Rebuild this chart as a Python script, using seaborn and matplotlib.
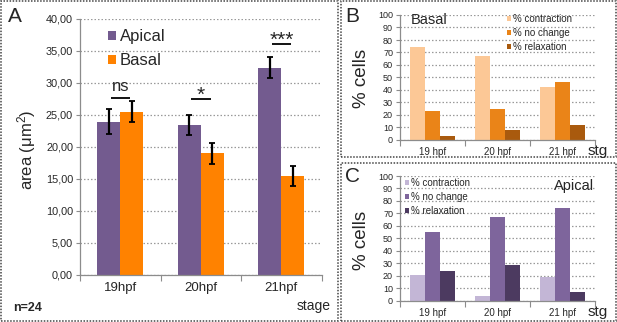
import numpy as np
import pandas as pd
import matplotlib
matplotlib.use("Agg")
import matplotlib.pyplot as plt
from matplotlib.patches import Rectangle
import seaborn as sns

# ---------------- data ----------------
stages_A = ["19hpf", "20hpf", "21hpf"]
apical_area = [23.9, 23.4, 32.4]
basal_area = [25.5, 19.0, 15.5]
apical_err = [1.95, 1.55, 1.65]
basal_err = [1.65, 1.65, 1.55]
sig_labels = ["ns", "*", "***"]
sig_heights = [27.6, 27.45, 36.1]

stages_BC = ["19 hpf", "20 hpf", "21 hpf"]
categories = ["% contraction", "% no change", "% relaxation"]
basal_contraction = [74, 67, 42]
basal_nochange = [23, 25, 46]
basal_relaxation = [3, 8, 12]
apical_contraction = [21, 4, 19]
apical_nochange = [55, 67, 74]
apical_relaxation = [24, 29, 7]

yticks_A = np.arange(0, 41, 5)
yticklabels_A = [f"{v:.2f}".replace(".", ",") for v in yticks_A]
yticks_BC = np.arange(0, 101, 10)

# ---------------- style ----------------
sns.set_theme(style="white")
plt.rcParams["font.family"] = ["Liberation Sans", "DejaVu Sans"]
plt.rcParams["mathtext.fontset"] = "custom"
plt.rcParams["mathtext.rm"] = "Liberation Sans"
plt.rcParams["mathtext.it"] = "Liberation Sans:italic"
plt.rcParams["mathtext.bf"] = "Liberation Sans:bold"

W, H = 617, 322
fig = plt.figure(figsize=(W / 100, H / 100), dpi=100)


def fx(px):
    return px / W


def fy(py):
    return 1 - py / H


def axes_px(l, t, r, b):
    return fig.add_axes([fx(l), fy(b), fx(r) - fx(l), fy(t) - fy(b)])


GRID = dict(color="#9a9a9a", linestyle=(0, (1.2, 1.6)), linewidth=0.9)
SPINE = "#8c8c8c"
TXT = "#262626"


def style_axes(ax, ymax, yticks, ylabels, ytick_fs, xtick_fs):
    ax.set_xlim(-0.5, 2.5)
    ax.set_ylim(0, ymax)
    ax.set_yticks(yticks)
    ax.set_yticklabels(ylabels, fontsize=ytick_fs, color=TXT)
    ax.yaxis.grid(True, **GRID)
    ax.xaxis.grid(False)
    ax.set_axisbelow(True)
    for s in ["top", "right"]:
        ax.spines[s].set_visible(False)
    for s in ["left", "bottom"]:
        ax.spines[s].set_color(SPINE)
        ax.spines[s].set_linewidth(0.9)
    ax.tick_params(axis="y", which="major", direction="out", length=3,
                   width=0.8, color=SPINE, pad=2, left=True)
    ax.set_xticks([0, 1, 2])
    ax.tick_params(axis="x", which="major", length=0, labelsize=xtick_fs,
                   labelcolor=TXT, pad=5)
    ax.set_xticks([-0.5, 0.5, 1.5, 2.5], minor=True)
    ax.tick_params(axis="x", which="minor", direction="out", length=4,
                   width=0.8, color=SPINE, bottom=True)
    ax.set_xlabel("")
    ax.set_ylabel("")


# ---------------- panel A ----------------
axA = axes_px(80, 19, 321.7, 274.7)
dfA = pd.DataFrame({
    "stage": stages_A * 2,
    "area": apical_area + basal_area,
    "side": ["Apical"] * 3 + ["Basal"] * 3,
    "err": apical_err + basal_err,
})
sns.barplot(data=dfA, x="stage", y="area", hue="side", ax=axA,
            palette={"Apical": "#735b8f", "Basal": "#ff8200"},
            width=0.57, gap=0, saturation=1, errorbar=None, linewidth=0)
for cont, errs in zip(axA.containers, [apical_err, basal_err]):
    xs = [b.get_x() + b.get_width() / 2 for b in cont]
    hs = [b.get_height() for b in cont]
    axA.errorbar(xs, hs, yerr=errs, fmt="none", ecolor="black",
                 elinewidth=1.6, capsize=2.5, capthick=1.3, zorder=5)
style_axes(axA, 40, yticks_A, yticklabels_A, 7.8, 9.5)
axA.set_xticklabels(stages_A)
for i, (lab, h) in enumerate(zip(sig_labels, sig_heights)):
    axA.plot([i - 0.12, i + 0.12], [h, h], color="black", lw=1.3,
             solid_capstyle="butt")
    if lab == "ns":
        axA.text(i, h + 0.6, lab, ha="center", va="bottom", fontsize=12)
    else:
        axA.text(i, h - 0.9, lab, ha="center", va="bottom", fontsize=15)
hA, lA = axA.get_legend_handles_labels()
axA.legend(hA, lA, loc="upper left", bbox_to_anchor=(fx(108), fy(29)),
           bbox_transform=fig.transFigure, frameon=False, fontsize=12,
           handlelength=0.45, handleheight=0.45, handletextpad=0.25,
           labelspacing=0.55, borderpad=0, borderaxespad=0)
fig.text(fx(27), fy(150), r"area (μm$^{2}$)", rotation=90, ha="center",
         va="center", fontsize=12, color=TXT)
fig.text(fx(331), fy(306), "stage", ha="right", va="center", fontsize=10,
         color=TXT)
fig.text(fx(13), fy(308), "n=24", ha="left", va="center", fontsize=9,
         fontweight="bold", color=TXT)
fig.text(fx(8), fy(16), "A", ha="left", va="center", fontsize=15, color=TXT)


# ---------------- panels B, C ----------------
def pct_panel(ax, vals, colors, title, title_xy, title_ha, leg_xy):
    df = pd.DataFrame({
        "stage": stages_BC * 3,
        "pct": vals[0] + vals[1] + vals[2],
        "cat": [c for c in categories for _ in stages_BC],
    })
    sns.barplot(data=df, x="stage", y="pct", hue="cat", ax=ax,
                palette=dict(zip(categories, colors)), width=0.68, gap=0,
                saturation=1, errorbar=None, linewidth=0)
    style_axes(ax, 100, yticks_BC, [str(v) for v in yticks_BC], 6.5, 7)
    ax.set_xticklabels(stages_BC)
    h, l = ax.get_legend_handles_labels()
    ax.legend(h, l, loc="upper left", bbox_to_anchor=leg_xy,
              bbox_transform=fig.transFigure, frameon=False, fontsize=7,
              handlelength=0.4, handleheight=0.45, handletextpad=0.25,
              labelspacing=0.4, borderpad=0, borderaxespad=0)
    fig.text(title_xy[0], title_xy[1], title, ha=title_ha, va="center",
             fontsize=10.5, color=TXT)


axB = axes_px(400, 15, 595, 140)
pct_panel(axB, [basal_contraction, basal_nochange, basal_relaxation],
          ["#fcc896", "#ea8418", "#a95a0e"], "Basal", (fx(411), fy(20)),
          "left", (fx(507), fy(14)))
fig.text(fx(362), fy(78), "% cells", rotation=90, ha="center", va="center",
         fontsize=13.5, color=TXT)
fig.text(fx(588), fy(151), "stg", ha="left", va="center", fontsize=11,
         color=TXT)
fig.text(fx(345), fy(16), "B", ha="left", va="center", fontsize=15, color=TXT)

axC = axes_px(400, 176, 595, 300.7)
pct_panel(axC, [apical_contraction, apical_nochange, apical_relaxation],
          ["#c3b6d6", "#7e659c", "#4c3a60"], "Apical", (fx(594), fy(186)),
          "right", (fx(405), fy(178)))
fig.text(fx(362), fy(240), "% cells", rotation=90, ha="center", va="center",
         fontsize=13.5, color=TXT)
fig.text(fx(588), fy(312), "stg", ha="left", va="center", fontsize=11,
         color=TXT)
fig.text(fx(345), fy(176), "C", ha="left", va="center", fontsize=15, color=TXT)

# ---------------- dotted panel borders ----------------
for (l, t, r, b) in [(1, 1, 338, 321), (341, 1, 616, 157), (341, 163, 616, 321)]:
    fig.add_artist(Rectangle((fx(l), fy(b)), fx(r) - fx(l), fy(t) - fy(b),
                             transform=fig.transFigure, fill=False,
                             edgecolor="#444444", linewidth=1.1,
                             linestyle=(0, (1, 1))))

fig.savefig("out.png", dpi=100)
